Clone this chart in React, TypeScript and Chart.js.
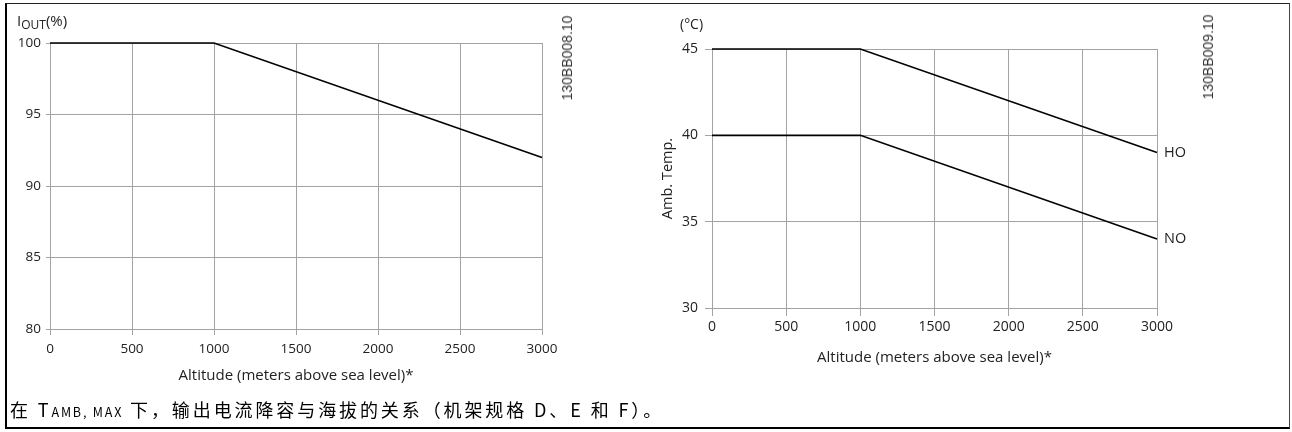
import React, { useEffect, useRef } from "react";
import { Chart, registerables } from "chart.js";

Chart.register(...registerables);

// ---- data ----
const altitudes = [0, 1000, 3000];
const ioutPercent = [100, 100, 92];
const hoTemp = [45, 45, 39];
const noTemp = [40, 40, 34];
const seriesLabels = ["HO", "NO"];
const altitudeRange = [0, 3000];
const ioutRange = [80, 100];
const tempRange = [30, 45];
const altitudeStep = 500;
const valueStep = 5;
const xTitle = "Altitude (meters above sea level)*";
const tempTitle = "Amb. Temp.";
const figIds = ["130BB008.10", "130BB009.10"];
const caption = ["在 T", "AMB, MAX", " 下，输出电流降容与海拔的关系（机架规格 D、E 和 F）。"];

const FONT = "'Open Sans', 'Liberation Sans', sans-serif";
const GRID = "#a3a3a3";
const TEXT = "#222";

const endLabelPlugin = {
  id: "endLabels",
  afterDatasetsDraw(chart: any) {
    const ctx = chart.ctx;
    chart.data.datasets.forEach((ds: any, i: number) => {
      if (!ds.endLabel) return;
      const meta = chart.getDatasetMeta(i);
      const last = meta.data[meta.data.length - 1];
      ctx.save();
      ctx.font = `14.5px ${FONT}`;
      ctx.fillStyle = TEXT;
      ctx.textBaseline = "middle";
      ctx.textAlign = "left";
      ctx.fillText(ds.endLabel, last.x + 7, last.y);
      ctx.restore();
    });
  },
};

function toPoints(ys: number[]) {
  return altitudes.map((x, i) => ({ x, y: ys[i] }));
}

function makeConfig(opts: {
  datasets: any[];
  yRange: number[];
  pad: { top: number; right: number };
  yWidth: number;
  xHeight: number;
  fontSize: number;
  yTickLen: number;
  yTickPad: number;
  xTickLen: number;
  xTickPad: number;
  xTitlePad: number;
  yTitle?: string;
  yTitlePad?: number;
}): any {
  return {
    type: "line",
    data: { datasets: opts.datasets },
    plugins: [endLabelPlugin],
    options: {
      animation: false,
      responsive: false,
      maintainAspectRatio: false,
      events: [],
      layout: { padding: { left: 0, top: opts.pad.top, right: opts.pad.right, bottom: 0 } },
      plugins: { legend: { display: false }, tooltip: { enabled: false } },
      elements: { point: { radius: 0 }, line: { tension: 0 } },
      scales: {
        x: {
          type: "linear",
          min: altitudeRange[0],
          max: altitudeRange[1],
          afterFit: (s: any) => {
            s.height = opts.xHeight;
          },
          ticks: {
            stepSize: altitudeStep,
            color: TEXT,
            font: { family: FONT, size: opts.fontSize },
            padding: opts.xTickPad,
            maxRotation: 0,
            callback: (v: any) => String(v),
          },
          grid: { color: GRID, lineWidth: 1, tickLength: opts.xTickLen },
          border: { color: GRID, width: 1 },
          title: {
            display: true,
            text: xTitle,
            color: TEXT,
            font: { family: FONT, size: 15 },
            padding: { top: opts.xTitlePad, bottom: opts.xTitlePad },
          },
        },
        y: {
          type: "linear",
          min: opts.yRange[0],
          max: opts.yRange[1],
          afterFit: (s: any) => {
            s.width = opts.yWidth;
          },
          ticks: {
            stepSize: valueStep,
            color: TEXT,
            font: { family: FONT, size: opts.fontSize },
            padding: opts.yTickPad,
            callback: (v: any) => String(v),
          },
          grid: { color: GRID, lineWidth: 1, tickLength: opts.yTickLen },
          border: { color: GRID, width: 1 },
          title: opts.yTitle
            ? {
                display: true,
                text: opts.yTitle,
                color: TEXT,
                font: { family: FONT, size: 14.5 },
                padding: { top: opts.yTitlePad, bottom: opts.yTitlePad },
              }
            : { display: false },
        },
      },
    },
  };
}

function ChartCanvas(props: { config: () => any; width: number; height: number; left: number; top: number }) {
  const ref = useRef<HTMLCanvasElement | null>(null);
  useEffect(() => {
    if (!ref.current) return;
    const chart = new Chart(ref.current, props.config());
    return () => chart.destroy();
  }, []);
  return (
    <canvas
      ref={ref}
      width={props.width}
      height={props.height}
      style={{ position: "absolute", left: props.left, top: props.top, width: props.width, height: props.height }}
    />
  );
}

const lineStyle = { borderColor: "#000", borderWidth: 1.6, pointRadius: 0, clip: false, fill: false };

export default function App() {
  const cfg1 = () =>
    makeConfig({
      datasets: [{ ...lineStyle, data: toPoints(ioutPercent) }],
      yRange: ioutRange,
      pad: { top: 43, right: 58 },
      yWidth: 50,
      xHeight: 71,
      fontSize: 13.5,
      yTickLen: 4,
      yTickPad: 5,
      xTickLen: 6,
      xTickPad: 6,
      xTitlePad: 15,
    });
  const cfg2 = () =>
    makeConfig({
      datasets: [
        { ...lineStyle, data: toPoints(hoTemp), endLabel: seriesLabels[0] },
        { ...lineStyle, data: toPoints(noTemp), endLabel: seriesLabels[1] },
      ],
      yRange: tempRange,
      pad: { top: 49, right: 135 },
      yWidth: 112,
      xHeight: 92,
      fontSize: 14,
      yTickLen: 7,
      yTickPad: 7,
      xTickLen: 8,
      xTickPad: 3,
      xTitlePad: 33,
      yTitle: tempTitle,
      yTitlePad: 59,
    });

  const textBase: React.CSSProperties = {
    position: "absolute",
    fontFamily: FONT,
    color: TEXT,
    whiteSpace: "pre",
    lineHeight: 1,
  };

  return (
    <div style={{ position: "absolute", left: 0, top: 0, width: 1292, height: 432, background: "#fff", overflow: "hidden" }}>
      <div
        style={{
          position: "absolute",
          left: 5,
          top: 3,
          width: 1285,
          height: 426,
          boxSizing: "border-box",
          borderTop: "1.5px solid #222",
          borderRight: "1px solid #444",
          borderLeft: "2px solid #000",
          borderBottom: "2px solid #000",
        }}
      />
      <ChartCanvas config={cfg1} width={600} height={400} left={0} top={0} />
      <ChartCanvas config={cfg2} width={692} height={400} left={600} top={0} />
      {/* unit labels */}
      <div style={{ ...textBase, left: 17, top: 13, fontSize: 15 }}>
        I<span style={{ fontSize: 12, position: "relative", top: 3 }}>OUT</span>(%)
      </div>
      <div style={{ ...textBase, left: 680, top: 17, fontSize: 14 }}>(°C)</div>
      {/* figure ids */}
      <div
        style={{
          ...textBase,
          fontFamily: "'Liberation Sans', Arial, sans-serif",
          fontSize: 14,
          color: "#333",
          left: 567,
          top: 58,
          transform: "translate(-50%, -50%) rotate(-90deg)",
        }}
      >
        {figIds[0]}
      </div>
      <div
        style={{
          ...textBase,
          fontFamily: "'Liberation Sans', Arial, sans-serif",
          fontSize: 14,
          color: "#333",
          left: 1208,
          top: 57,
          transform: "translate(-50%, -50%) rotate(-90deg)",
        }}
      >
        {figIds[1]}
      </div>
      {/* caption */}
      <div
        style={{
          ...textBase,
          fontFamily: "'Noto Sans CJK SC', sans-serif",
          color: "#000",
          left: 10,
          top: 400,
          fontSize: 18,
          letterSpacing: "2.9px",
        }}
      >
        {caption[0]}
        <span style={{ fontSize: 12.5, letterSpacing: "1.8px" }}>{caption[1]}</span>
        {caption[2]}
      </div>
    </div>
  );
}
